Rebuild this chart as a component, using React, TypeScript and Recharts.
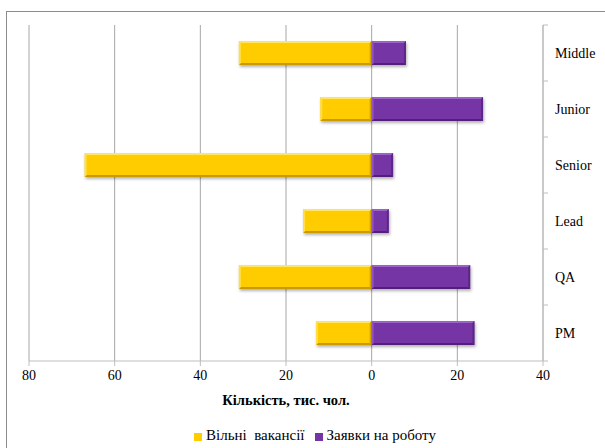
import React from "react";
import { BarChart, Bar, XAxis, YAxis, CartesianGrid, Legend, Label } from "recharts";

const categories = ["Middle", "Junior", "Senior", "Lead", "QA", "PM"];
const vacancies = [31, 12, 67, 16, 31, 13]; // thousands, drawn to the left
const applications = [8, 26, 5, 4, 23, 24]; // thousands, drawn to the right
const xTicks = [-80, -60, -40, -20, 0, 20, 40];

const data = categories.map((name, i) => ({
  name,
  vac: -vacancies[i],
  app: applications[i],
}));

const FONT = "'Times New Roman', 'Liberation Serif', serif";

function BevelBar(props: any) {
  const { x, y, width, height, fill, light, dark } = props;
  const w = Math.abs(width);
  const left = width < 0 ? x + width : x;
  if (!w || !height) return null;
  return (
    <g style={{ filter: "drop-shadow(1px 2px 1.5px rgba(0,0,0,0.3))" }}>
      <rect x={left} y={y} width={w} height={height} fill={fill} />
      <polygon
        points={`${left},${y} ${left + w},${y} ${left + w - 2},${y + 2} ${left + 2},${y + 2}`}
        fill={light}
      />
      <polygon
        points={`${left},${y + height} ${left + w},${y + height} ${left + w - 2},${y + height - 2} ${left + 2},${y + height - 2}`}
        fill={dark}
      />
      <polygon
        points={`${left},${y} ${left + 2},${y + 2} ${left + 2},${y + height - 2} ${left},${y + height}`}
        fill={light}
        opacity={0.7}
      />
      <polygon
        points={`${left + w},${y} ${left + w - 2},${y + 2} ${left + w - 2},${y + height - 2} ${left + w},${y + height}`}
        fill={dark}
        opacity={0.7}
      />
    </g>
  );
}

function CategoryTick(props: any) {
  const { x, y, payload, index } = props;
  const half = payload && payload.offset ? payload.offset : 28;
  const last = index === categories.length - 1;
  return (
    <g>
      <line x1={x - 12} x2={x - 7} y1={y - half} y2={y - half} stroke="#BFBFBF" />
      {last && <line x1={x - 12} x2={x - 7} y1={y + half} y2={y + half} stroke="#BFBFBF" />}
      <text x={x} y={y} dy={5} textAnchor="start" fontSize={14} fontFamily={FONT} fill="#000">
        {payload.value}
      </text>
    </g>
  );
}

export default function App() {
  return (
    <div style={{ position: "absolute", left: 0, top: 0, width: 605, height: 448, overflow: "hidden", background: "#fff", fontFamily: FONT }}>
      <div
        style={{
          position: "absolute",
          left: 6,
          top: 11,
          width: 620,
          height: 460,
          border: "1px solid #8C8C8C",
        }}
      />
      <BarChart
        width={605}
        height={448}
        data={data}
        layout="vertical"
        stackOffset="sign"
        barSize={24}
        margin={{ top: 25, left: 29, right: 0, bottom: 37 }}
        style={{ position: "absolute", left: 0, top: 0 }}
      >
        <CartesianGrid horizontal={false} stroke="#A6A6A6" />
        <XAxis
          type="number"
          domain={[-80, 40]}
          ticks={xTicks}
          tickFormatter={(v: number) => String(Math.abs(v))}
          stroke="#BFBFBF"
          tickSize={5}
          tickMargin={4}
          height={50}
          tick={{ fontSize: 14, fontFamily: FONT, fill: "#000" }}
        >
          <Label
            value="Кількість,  тис. чол."
            position="insideBottom"
            offset={6}
            style={{ fontSize: 14.5, fontWeight: "bold", fontFamily: FONT, fill: "#000" }}
          />
        </XAxis>
        <YAxis
          type="category"
          dataKey="name"
          orientation="right"
          width={62}
          stroke="#BFBFBF"
          tickSize={0}
          tickMargin={12}
          tick={<CategoryTick />}
        />
        <Legend
          layout="horizontal"
          verticalAlign="middle"
          align="center"
          iconType="square"
          iconSize={8}
          wrapperStyle={{ top: 427, left: 10, width: 620, fontFamily: FONT, fontSize: 15, lineHeight: "16px" }}
          formatter={(value: string) => <span style={{ color: "#000", whiteSpace: "pre" }}>{value}</span>}
        />
        <Bar
          dataKey="vac"
          name="Вільні  вакансії"
          stackId="a"
          fill="#FFCC00"
          shape={(p: any) => <BevelBar {...p} fill="#FFCC00" light="#FFE566" dark="#C99A00" />}
          isAnimationActive={false}
        />
        <Bar
          dataKey="app"
          name="Заявки на роботу"
          stackId="a"
          fill="#7535A5"
          shape={(p: any) => <BevelBar {...p} fill="#7535A5" light="#9D62C9" dark="#52207A" />}
          isAnimationActive={false}
        />
      </BarChart>
    </div>
  );
}
